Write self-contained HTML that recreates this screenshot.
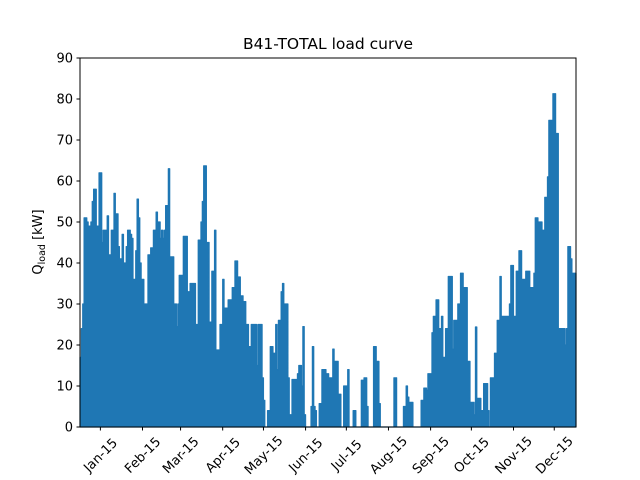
<!DOCTYPE html>
<html><head><meta charset="utf-8"><style>
html,body{margin:0;padding:0;background:#fff;}
svg{display:block;font-family:"DejaVu Sans","Liberation Sans",sans-serif;}
</style></head><body>
<svg id="chart" width="640" height="480" viewBox="0 0 640 480">
<rect width="640" height="480" fill="#fff"/>
<text x="328" y="49" font-size="15.5" text-anchor="middle" fill="#000">B41-TOTAL load curve</text>
<g id="plot"></g>
<g id="yaxis"></g>
<g id="xaxis"></g>
<text transform="translate(42,242) rotate(-90)" font-size="13" text-anchor="middle" fill="#000">Q<tspan font-size="9.5" dy="3">load</tspan><tspan dy="-3"> [kW]</tspan></text>
<rect x="80" y="58" width="496" height="369" fill="none" stroke="#000" stroke-width="1"/>
</svg>
<script>
// daily peak load (kW), day 0 = 2014-12-17
const loadValues = [
17,24,30,51,51,50,49,49,50,55,58,58,49,49,62,62,45,48,48,48,
51.5,42,42,48,48,57,52,52,44,41,41,47,40,40,44,48,48,47,46,36,
36,43,55.6,51,40,36,36,30,30,30,42,42,43.7,43.7,48,48,52.4,50,50,46,
48,46,48,54,54,63,41.5,41.5,41.5,30,30,24.5,30,37,37,37,46.5,46.5,46.5,33,
33,35,35,35,35,25,25,45.6,45.6,50,55,63.7,63.7,45,45,25.6,25.6,38,38,48,
18.8,18.8,18.8,25,25,36,29,29,29,31,31,31,34,34,40.5,40.5,36.6,36.6,32,32,
30.6,30.6,25,25,19.6,19.6,25,25,25,25,15,25,25,25,12,6.5,0,0,4,4,
19.6,19.6,18,18,25,14,26,26,33,35,30,30,30,12,3,3,11.6,11.6,11.6,11.6,
13,15,15,10,24.5,3,0,0,0,0,5,19.6,5,4,0,0,5.7,5.7,14,14,
14,13,13,12,12,12,19,16,16,16,8,8,0,0,10,10,10,14,0,0,
0,4,4,0,0,0,0,11.4,11.4,12,12,5,0,0,0,0,19.6,19.6,16,16,
5.7,0,0,0,0,0,0,0,0,0,0,12,12,0,0,0,0,0,5,5,
10,7.3,6,6,6,0,0,0,0,0,0,6.5,6.5,9.5,9.5,9,13,13,13,23,
27,27,31,31,24,24,27,17,17,24,24,36.7,36.7,36.7,19,26,26,26,30,30,
37.5,37.5,34,34,34,16,16,6,6,6,3,24.4,7,7,7,4,4,10.6,10.6,10.6,
4,0,12,12,12,18,18,26,26,36.7,27,27,27,27,27,27,30,39.4,39.4,27,
27,38,38,43,43,36,36,36,38,38,38,34,34,34,37.5,51,51,50,50,50,
48,48,56,56,61,74.8,74.8,74.8,81.3,81.3,71.6,71.6,24,24,24,24,24,20,24,44,
44,41,37.5,37.5,37.5,37.5
];
const yTicks = [0,10,20,30,40,50,60,70,80,90];
const monthLabels = ["Jan-15","Feb-15","Mar-15","Apr-15","May-15","Jun-15","Jul-15","Aug-15","Sep-15","Oct-15","Nov-15","Dec-15"];
const monthStartDays = [15,46,74,105,135,166,196,227,258,288,319,349];

const NS = "http://www.w3.org/2000/svg";
const X0 = 80, X1 = 576, Y0 = 427, Y1 = 58;
const dayMax = 365, yMax = 90;
function xScale(d){ return X0 + (d / dayMax) * (X1 - X0); }
function yScale(v){ return Y0 - (v / yMax) * (Y0 - Y1); }

const plot = document.getElementById('plot');
let pts = [];
for (let i = 0; i < loadValues.length; i++) {
  const xa = Math.min(xScale(i), X1), xb = Math.min(xScale(i + 1), X1);
  const yv = yScale(loadValues[i]);
  pts.push(xa + ',' + yv, xb + ',' + yv);
}
const area = document.createElementNS(NS, 'polygon');
area.setAttribute('points', X0 + ',' + Y0 + ' ' + pts.join(' ') + ' ' + X1 + ',' + Y0);
area.setAttribute('fill', '#1f77b4');
area.setAttribute('stroke', '#1f77b4');
area.setAttribute('stroke-width', '1.2');
area.setAttribute('stroke-linejoin', 'round');


plot.appendChild(area);

const yaxis = document.getElementById('yaxis');
yTicks.forEach(function(v){
  const y = yScale(v);
  const t = document.createElementNS(NS, 'line');
  t.setAttribute('x1', X0 - 3.5); t.setAttribute('x2', X0);
  t.setAttribute('y1', y); t.setAttribute('y2', y);
  t.setAttribute('stroke', '#000');
  
  
  yaxis.appendChild(t);
  const lb = document.createElementNS(NS, 'text');
  lb.setAttribute('x', X0 - 7); lb.setAttribute('y', y + 4.5);
  lb.setAttribute('font-size', '13');
  lb.setAttribute('text-anchor', 'end');
  lb.textContent = v;
  
  
  yaxis.appendChild(lb);
});

const xaxis = document.getElementById('xaxis');
monthStartDays.forEach(function(d, i){
  const x = xScale(d);
  const t = document.createElementNS(NS, 'line');
  t.setAttribute('x1', x); t.setAttribute('x2', x);
  t.setAttribute('y1', Y0); t.setAttribute('y2', Y0 + 3.5);
  t.setAttribute('stroke', '#000');
  
  
  xaxis.appendChild(t);
  const lb = document.createElementNS(NS, 'text');
  lb.setAttribute('transform', 'translate(' + x + ',455) rotate(-45)');
  lb.setAttribute('font-size', '13');
  lb.setAttribute('text-anchor', 'middle');
  lb.setAttribute('dy', '4.5');
  lb.textContent = monthLabels[i];
  
  
  xaxis.appendChild(lb);
});
</script>
</body></html>
